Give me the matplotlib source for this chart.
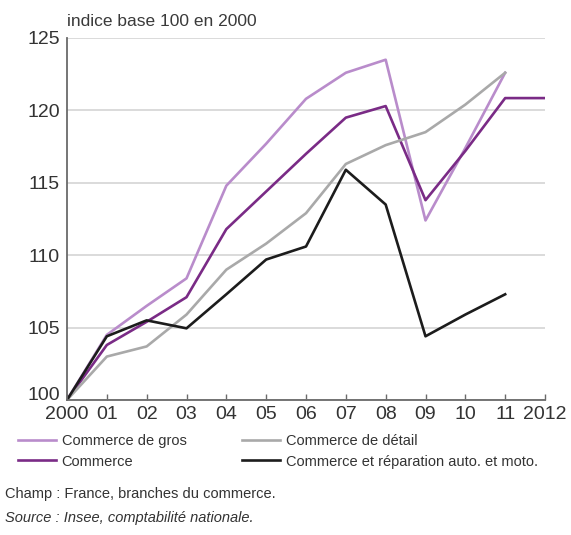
import matplotlib.pyplot as plt
from matplotlib.transforms import ScaledTranslation

plt.rcParams['font.family'] = ['Liberation Sans', 'DejaVu Sans']

annees = list(range(2000, 2013))
etiquettes = ['2000', '01', '02', '03', '04', '05', '06', '07', '08', '09', '10', '11', '2012']

# indices base 100 en 2000
gros = [100, 104.5, 106.5, 108.4, 114.8, 117.7, 120.8, 122.6, 123.5, 112.4, 117.4, 122.6]
commerce = [100, 103.8, 105.4, 107.1, 111.8, 114.4, 117.0, 119.5, 120.3, 113.8, 117.2, 120.85, 120.85]
detail = [100, 103.0, 103.7, 105.9, 109.0, 110.8, 112.9, 116.3, 117.6, 118.5, 120.4, 122.6]
auto = [100, 104.4, 105.5, 104.95, 107.3, 109.7, 110.6, 115.9, 113.5, 104.4, 105.9, 107.3]

c_gros = '#b98ccb'
c_commerce = '#7a2b86'
c_detail = '#a9a9a9'
c_auto = '#1c1c1c'

fig = plt.figure(figsize=(5.71, 5.35), dpi=100)
ax = fig.add_axes([67 / 571, 1 - 400 / 535, (545 - 67) / 571, (400 - 38) / 535])

l1, = ax.plot(annees[:len(gros)], gros, color=c_gros, lw=1.9, label='Commerce de gros')
l2, = ax.plot(annees[:len(commerce)], commerce, color=c_commerce, lw=1.9, label='Commerce')
l3, = ax.plot(annees[:len(detail)], detail, color=c_detail, lw=1.9, label='Commerce de détail')
l4, = ax.plot(annees[:len(auto)], auto, color=c_auto, lw=1.9,
              label='Commerce et réparation auto. et moto.')

ax.set_xlim(2000, 2012)
ax.set_ylim(100, 125)
ax.set_yticks([100, 105, 110, 115, 120, 125])
ax.set_xticks(annees)
ax.set_xticklabels(etiquettes)
ax.yaxis.grid(True, color='#d4d4d4', lw=1.2)
ax.set_axisbelow(True)

for s in ['top', 'right']:
    ax.spines[s].set_visible(False)
ax.spines['left'].set_color('#6a6a6a')
ax.spines['bottom'].set_color('#6a6a6a')
ax.spines['left'].set_linewidth(1.3)
ax.spines['bottom'].set_linewidth(1.3)

ax.tick_params(axis='y', length=0, pad=5, labelsize=14, labelcolor='#333333')
ax.tick_params(axis='x', direction='in', length=4, width=1, color='#6a6a6a',
               pad=4, labelsize=14, labelcolor='#333333')

# remonter le "100" pour qu'il ne chevauche pas "2000"
lab100 = ax.get_yticklabels()[0]
lab100.set_transform(lab100.get_transform() + ScaledTranslation(0, 5 / 72, fig.dpi_scale_trans))

fig.text(67 / 571, 1 - 21 / 535, 'indice base 100 en 2000', fontsize=12.5,
         color='#3a3a3a', va='center', ha='left')

fig.legend(handles=[l1, l2, l3, l4], ncol=2, loc='upper left',
           bbox_to_anchor=(18 / 571, 1 - 434 / 535), frameon=False,
           fontsize=10.5, handlelength=2.6, handletextpad=0.4,
           columnspacing=3.8, labelspacing=0.45, borderpad=0, borderaxespad=0,
           labelcolor='#333333')

fig.text(5 / 571, 1 - 494 / 535, 'Champ : France, branches du commerce.',
         fontsize=10.5, color='#333333', va='center', ha='left')
fig.text(5 / 571, 1 - 518 / 535, 'Source : Insee, comptabilité nationale.',
         fontsize=10.5, color='#333333', va='center', ha='left', style='italic')

fig.savefig('out.png', dpi=100)
